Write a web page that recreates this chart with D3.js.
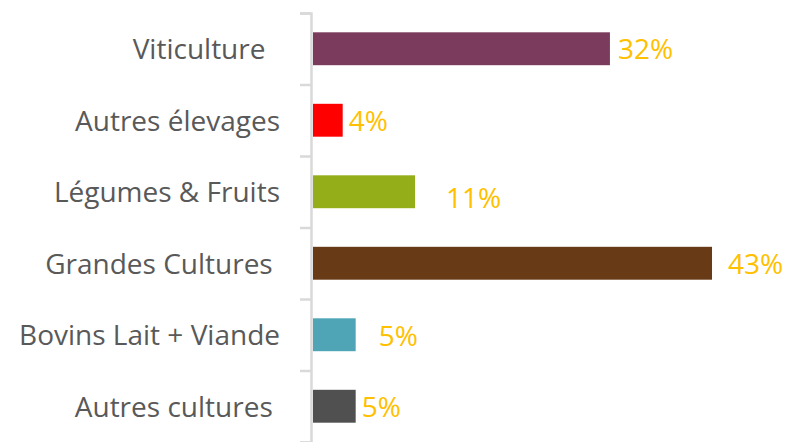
<!DOCTYPE html>
<html>
<head>
<meta charset="utf-8">
<script src="https://cdn.jsdelivr.net/npm/d3@7"></script>
<style>
  body { margin: 0; background: #fff; }
  text { font-family: "Open Sans", sans-serif; white-space: pre; }
</style>
</head>
<body>
<script>
// categories, top to bottom (trailing spaces as in the original labels)
var categories = ["Viticulture  ", "Autres élevages", "Légumes & Fruits", "Grandes Cultures ", "Bovins Lait + Viande", "Autres cultures "];
// bar lengths (%)
var values = [32, 3.2, 11, 43, 4.6, 4.6];
// data labels as shown
var labels = ["32%", "4%", "11%", "43%", "5%", "5%"];
var colors = ["#7b3b5d", "#ff0000", "#94ae1a", "#683b16", "#4fa5b6", "#505050"];
// label nudges (the labels were moved by hand in the original)
var labelDx = [8, 6, 31, 16, 23, 6];
var labelDy = [0, 0, 6, 0, 1, 0];

var width = 787, height = 442;

var svg = d3.select("body").append("svg")
    .attr("width", width)
    .attr("height", height);

// set the ranges
var x = d3.scaleLinear().domain([0, 43]).range([313, 712]);
var y = d3.scaleBand().domain(d3.range(categories.length)).range([13, 442]).paddingInner(0.54).paddingOuter(0.27);
var yAxisScale = d3.scaleLinear().domain([0, categories.length]).range([13, 442]);

// axis with ticks between categories
svg.append("g")
    .attr("transform", "translate(311,0)")
    .call(d3.axisLeft(yAxisScale).tickValues(d3.range(categories.length + 1)).tickSize(11).tickFormat(""))
    .call(function (g) {
        g.selectAll("path, line").attr("stroke", "#d9d9d9").attr("stroke-width", 2.5);
    });

// bars
svg.selectAll(".bar")
    .data(values)
    .enter().append("rect")
    .attr("class", "bar")
    .attr("x", x(0))
    .attr("y", function (d, i) { return y(i); })
    .attr("width", function (d) { return x(d) - x(0); })
    .attr("height", y.bandwidth())
    .attr("fill", function (d, i) { return colors[i]; });

// category labels
svg.selectAll(".cat")
    .data(categories)
    .enter().append("text")
    .attr("class", "cat")
    .attr("x", 280)
    .attr("y", function (d, i) { return y(i) + y.bandwidth() / 2; })
    .attr("dy", "0.38em")
    .attr("text-anchor", "end")
    .attr("font-size", 28)
    .attr("fill", "#595959")
    .text(function (d) { return d; });

// value labels
svg.selectAll(".val")
    .data(values)
    .enter().append("text")
    .attr("class", "val")
    .attr("x", function (d, i) { return x(d) + labelDx[i]; })
    .attr("y", function (d, i) { return y(i) + y.bandwidth() / 2 + labelDy[i]; })
    .attr("dy", "0.38em")
    .attr("font-size", 28)
    .attr("fill", "#ffc000")
    .text(function (d, i) { return labels[i]; });
</script>
</body>
</html>
